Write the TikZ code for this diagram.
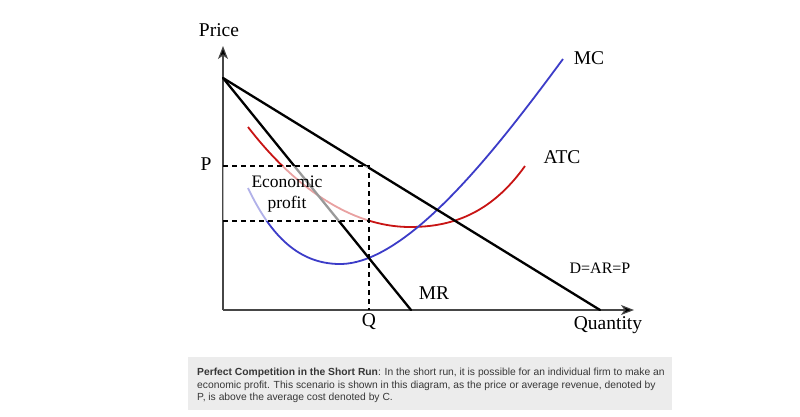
\documentclass[tikz,border=0pt]{standalone}
\usepackage{fontspec}
\setmainfont{Liberation Serif}
\newfontfamily\capfont{Liberation Sans}
\usetikzlibrary{arrows.meta}
\definecolor{mcblue}{RGB}{60,60,200}
\definecolor{atcred}{RGB}{200,20,20}
\definecolor{capbg}{RGB}{236,236,236}
\definecolor{captext}{RGB}{55,55,55}
\definecolor{axisgray}{RGB}{70,70,70}
\tikzset{
  axisline/.style={draw=axisgray, line width=1.1pt, -{Stealth[length=13pt,width=10pt,inset=3.5pt,fill=black]}},
  econline/.style={draw=black, line width=2.3pt, line cap=round},
  mccurve/.style={draw=mcblue, line width=1.8pt},
  atccurve/.style={draw=atcred, line width=1.8pt},
  guide/.style={draw=black, line width=1.4pt, dash pattern=on 5pt off 4pt},
  lbl/.style={font=\fontsize{19.5}{22}\selectfont, inner sep=0pt},
  smalllbl/.style={font=\fontsize{16}{18}\selectfont, inner sep=0pt},
}
\begin{document}
\begin{tikzpicture}[x=1pt,y=-1pt]
\useasboundingbox (0,0) rectangle (800,416);
\fill[white] (0,0) rectangle (800,416);
% key points
\coordinate (O) at (223,310);
\coordinate (Ytop) at (223,46);
\coordinate (Xend) at (634,310);
\coordinate (A) at (223,78);
\coordinate (Dend) at (600,310);
\coordinate (MRend) at (411,310);
\coordinate (PQ) at (369,166);
\coordinate (CQ) at (369,221);
\coordinate (Pax) at (223,166);
\coordinate (Cax) at (223,221);
\coordinate (Qax) at (369,310);
\coordinate (atcS) at (248,127);
\coordinate (atcM) at (410,227);
\coordinate (atcE) at (525,166);
\coordinate (mcS) at (248,188);
\coordinate (mcM) at (340,264);
\coordinate (mcE) at (563,59);
% axes
\draw[axisline] (O) -- (Ytop);
\draw[axisline] (O) -- (Xend);
% curves
\draw[atccurve] (atcS) .. controls (293,185.5) and (350,227) .. (atcM)
                       .. controls (450,227) and (490,215) .. (atcE);
\draw[mccurve] (mcS) .. controls (268,230) and (295,264) .. (mcM)
                     .. controls (410,264) and (503,140) .. (mcE);
% demand and MR
\draw[econline] (A) -- (Dend);
\draw[econline] (A) -- (MRend);
% profit overlay
\fill[white, opacity=0.6] (Pax) rectangle (CQ);
% guides
\draw[guide] (Pax) -- (PQ) -- (Qax);
\draw[guide] (Cax) -- (CQ);
% labels
\node[lbl] (price) at (219,30) {Price};
\node[lbl] (plbl) at (206,164) {P};
\node[lbl] (qlbl) at (369,322) {Q};
\node[lbl] (qty) at (608,325) {Quantity};
\node[lbl] (mclbl) at (589,58) {MC};
\node[lbl] (atclbl) at (562,157) {ATC};
\node[smalllbl] (dlbl) at (600,268) {D=AR=P};
\node[lbl] (mrlbl) at (434,293) {MR};
\node[font=\fontsize{17.5}{21}\selectfont, align=center, inner sep=0pt] (econ) at (287,194.5) {Economic\\profit};
% caption
\fill[capbg] (188,357) rectangle (672,410);
\node[anchor=north west, inner sep=0pt, align=left, text=captext,
      font=\capfont\fontsize{10.3}{12.5}\selectfont] (cap) at (197,368)
  {\textbf{Perfect Competition in the Short Run}: In the short run, it is possible for an individual firm to make an\\
   economic profit. This scenario is shown in this diagram, as the price or average revenue, denoted by\\
   P, is above the average cost denoted by C.};
\end{tikzpicture}
\end{document}
